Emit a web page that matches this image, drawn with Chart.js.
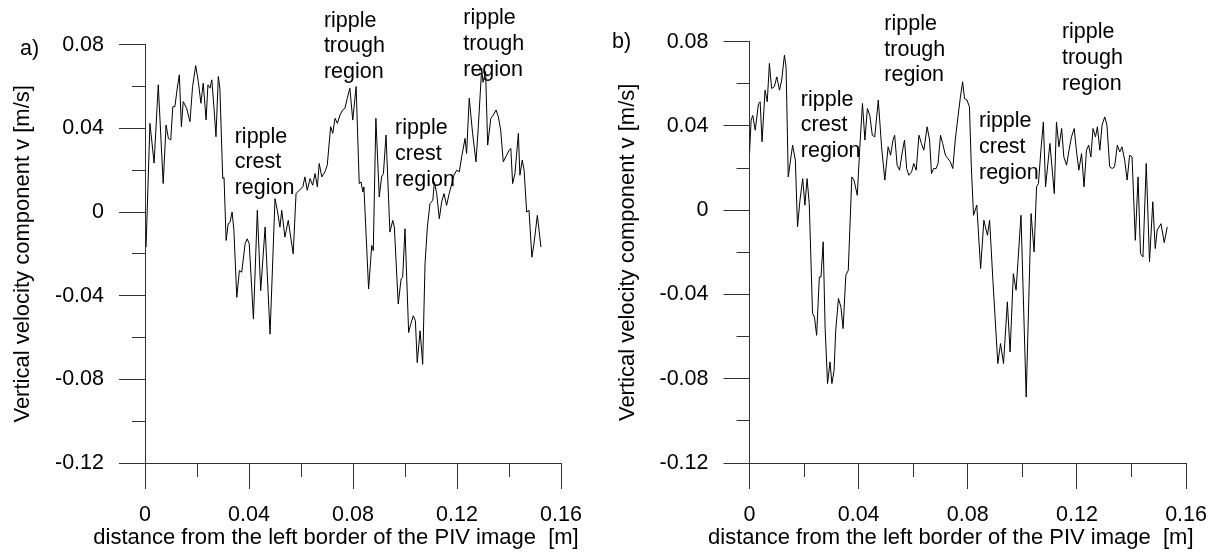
<!DOCTYPE html>
<html>
<head>
<meta charset="utf-8">
<script src="https://cdn.jsdelivr.net/npm/chart.js@4.4.1/dist/chart.umd.min.js"></script>
<style>
html,body{margin:0;padding:0;background:#fff;}
#wrap{position:relative;width:1220px;height:554px;overflow:hidden;background:#fff;}
canvas{position:absolute;top:0;}
#ca{left:0;}
#cb{left:605px;}
</style>
</head>
<body>
<div id="wrap">
<canvas id="ca" width="605" height="554"></canvas>
<canvas id="cb" width="615" height="554"></canvas>
</div>
<script>
// ---------- data (panel a) ----------
const distA = [0.0004,0.0019,0.0035,0.0051,0.0070,0.0081,0.0090,0.0099,0.0107,0.0115,
0.0124,0.0132,0.0140,0.0147,0.0160,0.0173,0.0183,0.0195,0.0205,0.0215,
0.0224,0.0235,0.0242,0.0250,0.0257,0.0265,0.0273,0.0282,0.0288,0.0299,
0.0304,0.0312,0.0320,0.0327,0.0335,0.0342,0.0353,0.0363,0.0372,0.0385,
0.0393,0.0401,0.0417,0.0432,0.0445,0.0462,0.0481,0.0500,0.0509,0.0519,
0.0526,0.0538,0.0551,0.0570,0.0581,0.0593,0.0607,0.0615,0.0624,0.0635,
0.0645,0.0654,0.0663,0.0670,0.0680,0.0692,0.0701,0.0714,0.0722,0.0731,
0.0740,0.0750,0.0760,0.0769,0.0778,0.0788,0.0799,0.0812,0.0824,0.0831,
0.0838,0.0842,0.0860,0.0872,0.0878,0.0888,0.0901,0.0910,0.0917,0.0927,
0.0942,0.0953,0.0959,0.0974,0.0985,0.0991,0.1000,0.1014,0.1022,0.1032,
0.1040,0.1047,0.1058,0.1068,0.1077,0.1086,0.1096,0.1107,0.1113,0.1122,
0.1132,0.1141,0.1150,0.1160,0.1170,0.1180,0.1188,0.1199,0.1209,0.1218,
0.1231,0.1237,0.1247,0.1260,0.1273,0.1282,0.1295,0.1300,0.1310,0.1318,
0.1330,0.1340,0.1350,0.1359,0.1368,0.1378,0.1391,0.1401,0.1407,0.1414,
0.1423,0.1436,0.1442,0.1451,0.1458,0.1468,0.1477,0.1488,0.1496,0.1509,
0.1523];
const velA = [-0.0168,0.0424,0.0234,0.0608,0.0136,0.0416,0.0352,0.0344,0.0504,0.0504,
0.0592,0.0656,0.0408,0.0528,0.0496,0.0432,0.0600,0.0700,0.0624,0.0520,
0.0616,0.0440,0.0608,0.0592,0.0632,0.0504,0.0360,0.0648,0.0592,0.0160,
0.0165,-0.0136,-0.0056,-0.0050,0.0000,-0.0088,-0.0408,-0.0280,-0.0288,-0.0152,
-0.0128,-0.0152,-0.0512,0.0008,-0.0376,-0.0072,-0.0584,0.0064,0.0008,-0.0072,
0.0008,-0.0120,-0.0040,-0.0200,0.0088,0.0104,0.0120,0.0168,0.0104,0.0160,
0.0128,0.0184,0.0120,0.0232,0.0168,0.0192,0.0224,0.0408,0.0376,0.0448,
0.0424,0.0464,0.0488,0.0496,0.0544,0.0592,0.0440,0.0600,0.0136,0.0144,
0.0096,0.0120,-0.0368,-0.0160,-0.0184,0.0448,0.0072,0.0168,0.0184,0.0368,
-0.0096,-0.0040,-0.0072,-0.0440,-0.0320,-0.0312,-0.0080,-0.0576,-0.0536,-0.0496,
-0.0520,-0.0720,-0.0568,-0.0728,-0.0248,-0.0072,0.0040,0.0056,0.0144,0.0088,
-0.0032,0.0048,0.0088,0.0032,0.0088,0.0136,0.0176,0.0200,0.0192,0.0264,
0.0352,0.0280,0.0544,0.0376,0.0240,0.0408,0.0688,0.0620,0.0672,0.0320,
0.0448,0.0464,0.0488,0.0456,0.0392,0.0240,0.0272,0.0296,0.0304,0.0136,
0.0184,0.0376,0.0176,0.0248,0.0200,0.0000,0.0008,-0.0216,-0.0152,-0.0016,
-0.0168];

// ---------- data (panel b) ----------
const distB = [0.0000,0.0006,0.0012,0.0021,0.0033,0.0039,0.0046,0.0057,0.0065,0.0073,
0.0081,0.0091,0.0100,0.0110,0.0118,0.0128,0.0134,0.0142,0.0152,0.0158,
0.0168,0.0176,0.0185,0.0195,0.0203,0.0211,0.0219,0.0231,0.0238,0.0246,
0.0256,0.0262,0.0270,0.0277,0.0286,0.0295,0.0302,0.0310,0.0316,0.0326,
0.0335,0.0343,0.0353,0.0362,0.0375,0.0383,0.0395,0.0404,0.0414,0.0423,
0.0432,0.0441,0.0450,0.0459,0.0472,0.0484,0.0496,0.0508,0.0517,0.0526,
0.0532,0.0541,0.0550,0.0560,0.0568,0.0576,0.0584,0.0594,0.0602,0.0611,
0.0621,0.0630,0.0639,0.0651,0.0660,0.0667,0.0675,0.0684,0.0691,0.0700,
0.0708,0.0718,0.0727,0.0736,0.0745,0.0754,0.0764,0.0773,0.0781,0.0788,
0.0797,0.0806,0.0813,0.0821,0.0833,0.0847,0.0859,0.0872,0.0880,0.0892,
0.0910,0.0920,0.0931,0.0945,0.0955,0.0967,0.0977,0.0995,0.1014,0.1032,
0.1043,0.1052,0.1059,0.1068,0.1077,0.1085,0.1101,0.1117,0.1125,0.1134,
0.1144,0.1152,0.1162,0.1171,0.1180,0.1190,0.1198,0.1207,0.1217,0.1226,
0.1235,0.1243,0.1251,0.1259,0.1268,0.1275,0.1284,0.1292,0.1302,0.1310,
0.1320,0.1329,0.1338,0.1348,0.1357,0.1365,0.1375,0.1384,0.1393,0.1402,
0.1414,0.1424,0.1433,0.1442,0.1454,0.1466,0.1478,0.1487,0.1494,0.1508,
0.1520,0.1531];
const velB = [0.0269,0.0428,0.0450,0.0380,0.0507,0.0515,0.0325,0.0570,0.0515,0.0697,
0.0578,0.0586,0.0633,0.0570,0.0618,0.0736,0.0680,0.0158,0.0253,0.0309,
0.0238,-0.0079,0.0048,0.0150,0.0024,0.0150,0.0032,-0.0491,-0.0507,-0.0594,
-0.0317,-0.0317,-0.0150,-0.0554,-0.0823,-0.0720,-0.0823,-0.0760,-0.0570,-0.0419,
-0.0459,-0.0562,-0.0309,-0.0285,0.0158,0.0143,0.0071,0.0293,0.0507,0.0333,
0.0483,0.0450,0.0356,0.0348,0.0523,0.0301,0.0143,0.0301,0.0261,0.0333,
0.0356,0.0214,0.0190,0.0277,0.0333,0.0198,0.0166,0.0182,0.0222,0.0190,
0.0356,0.0317,0.0285,0.0396,0.0333,0.0174,0.0198,0.0198,0.0222,0.0356,
0.0317,0.0261,0.0245,0.0230,0.0198,0.0333,0.0443,0.0538,0.0610,0.0530,
0.0523,0.0491,0.0206,-0.0024,0.0024,-0.0277,-0.0048,-0.0119,-0.0048,-0.0333,
-0.0728,-0.0633,-0.0728,-0.0435,-0.0673,-0.0301,-0.0380,-0.0024,-0.0887,-0.0016,
-0.0198,0.0111,0.0127,0.0285,0.0419,0.0111,0.0317,0.0079,0.0419,0.0301,
0.0388,0.0253,0.0214,0.0285,0.0348,0.0388,0.0285,0.0190,0.0269,0.0111,
0.0285,0.0309,0.0253,0.0388,0.0348,0.0396,0.0285,0.0404,0.0443,0.0404,
0.0206,0.0198,0.0206,0.0309,0.0277,0.0301,0.0238,0.0143,0.0261,0.0253,
-0.0143,0.0158,-0.0206,-0.0222,0.0222,-0.0245,0.0040,-0.0182,-0.0095,-0.0064,
-0.0154,-0.0079];

// ---------- axes / labels ----------
const xRange = [0, 0.16];
const yRange = [-0.12, 0.08];
const tickStep = 0.02;
const xTitle = 'distance from the left border of the PIV image  [m]';
const yTitle = 'Vertical velocity component v [m/s]';
const regionLabel = { crest: ['ripple', 'crest', 'region'], trough: ['ripple', 'trough', 'region'] };

// annotation anchors in data coordinates (left edge of text, middle of first line)
const notesA = [
  { x: 0.0345, y: 0.0360, lines: regionLabel.crest },
  { x: 0.0688, y: 0.0915, lines: regionLabel.trough },
  { x: 0.0962, y: 0.0400, lines: regionLabel.crest },
  { x: 0.1224, y: 0.0925, lines: regionLabel.trough }
];
const notesB = [
  { x: 0.0188, y: 0.0525, lines: regionLabel.crest },
  { x: 0.0494, y: 0.0885, lines: regionLabel.trough },
  { x: 0.0841, y: 0.0422, lines: regionLabel.crest },
  { x: 0.1145, y: 0.0845, lines: regionLabel.trough }
];

const FAMILY = "'Liberation Sans', Arial, Helvetica, sans-serif";
const tickFont = { family: FAMILY, size: 21.5 };
const titleFont = { family: FAMILY, size: 22 };
const AXIS_COLOR = '#333';

function isMajor(v) { return Math.round(v * 100) % 4 === 0; }
function fmt(v) {
  const k = Math.round(v * 100);
  if (k % 4 !== 0) return '';
  return k === 0 ? '0' : (k / 100).toFixed(2);
}

const notePlugin = {
  id: 'notes',
  afterDraw(chart, args, opts) {
    const { ctx, scales: { x, y } } = chart;
    ctx.save();
    ctx.fillStyle = '#000';
    ctx.textBaseline = 'middle';
    // x-axis title (drawn without width compression)
    ctx.font = '22px ' + FAMILY;
    ctx.textAlign = 'center';
    ctx.fillText(xTitle, (x.left + x.right) / 2 - 17, x.bottom - 16);
    // region annotations
    ctx.font = '21.5px ' + FAMILY;
    ctx.textAlign = 'left';
    for (const n of opts.notes) {
      const px = x.getPixelForValue(n.x);
      const py = y.getPixelForValue(n.y);
      n.lines.forEach((t, i) => ctx.fillText(t, px, py + i * 25.8));
    }
    if (opts.tag) ctx.fillText(opts.tag.text, opts.tag.x, opts.tag.y);
    ctx.restore();
  }
};

function build(id, dist, vel, c) {
  const points = dist.map((d, i) => ({ x: d, y: vel[i] }));
  return new Chart(document.getElementById(id), {
    type: 'line',
    data: {
      datasets: [{
        data: points,
        borderColor: '#000',
        borderWidth: 1,
        pointRadius: 0,
        tension: 0,
        fill: false
      }]
    },
    options: {
      responsive: false,
      animation: false,
      devicePixelRatio: 1,
      layout: { padding: c.pad },
      plugins: {
        legend: { display: false },
        tooltip: { enabled: false },
        notes: { notes: c.notes, tag: c.tag }
      },
      scales: {
        x: {
          type: 'linear',
          min: xRange[0], max: xRange[1],
          afterFit: s => { s.height = c.xHeight; },
          border: { display: true, color: AXIS_COLOR, width: 1 },
          grid: {
            drawOnChartArea: false, drawTicks: true, tickLength: 26,
            tickColor: AXIS_COLOR,
            tickBorderDash: ctx => (ctx.tick && !isMajor(ctx.tick.value)) ? [13, 40] : []
          },
          ticks: {
            stepSize: tickStep, autoSkip: false, maxRotation: 0, minRotation: 0,
            padding: 13, color: '#000', font: tickFont,
            callback: v => fmt(v)
          },
          title: { display: false }
        },
        y: {
          type: 'linear',
          min: yRange[0], max: yRange[1],
          afterFit: s => { s.width = c.yWidth; },
          border: { display: true, color: AXIS_COLOR, width: 1 },
          grid: {
            drawOnChartArea: false, drawTicks: true, tickLength: 26,
            tickColor: AXIS_COLOR,
            tickBorderDash: ctx => (ctx.tick && !isMajor(ctx.tick.value)) ? [0, 13, 13, 0] : []
          },
          ticks: {
            stepSize: tickStep, autoSkip: false,
            padding: 15, color: '#000', font: tickFont,
            callback: v => fmt(v)
          },
          title: {
            display: true, text: yTitle, color: '#000', font: titleFont,
            padding: { top: c.yTitlePad, bottom: 0 }
          }
        }
      }
    },
    plugins: [notePlugin]
  });
}

build('ca', distA, velA, {
  pad: { left: 0, top: 44.7, right: 44, bottom: 0 },
  yWidth: 145, xHeight: 91, yTitlePad: 9.5,
  notes: notesA, tag: { text: 'a)', x: 20, y: 49.5 }
});
build('cb', distB, velB, {
  pad: { left: 0, top: 41.7, right: 32, bottom: 0 },
  yWidth: 144.5, xHeight: 91, yTitlePad: 9.8,
  notes: notesB, tag: { text: 'b)', x: 7, y: 42 }
});
</script>
</body>
</html>
